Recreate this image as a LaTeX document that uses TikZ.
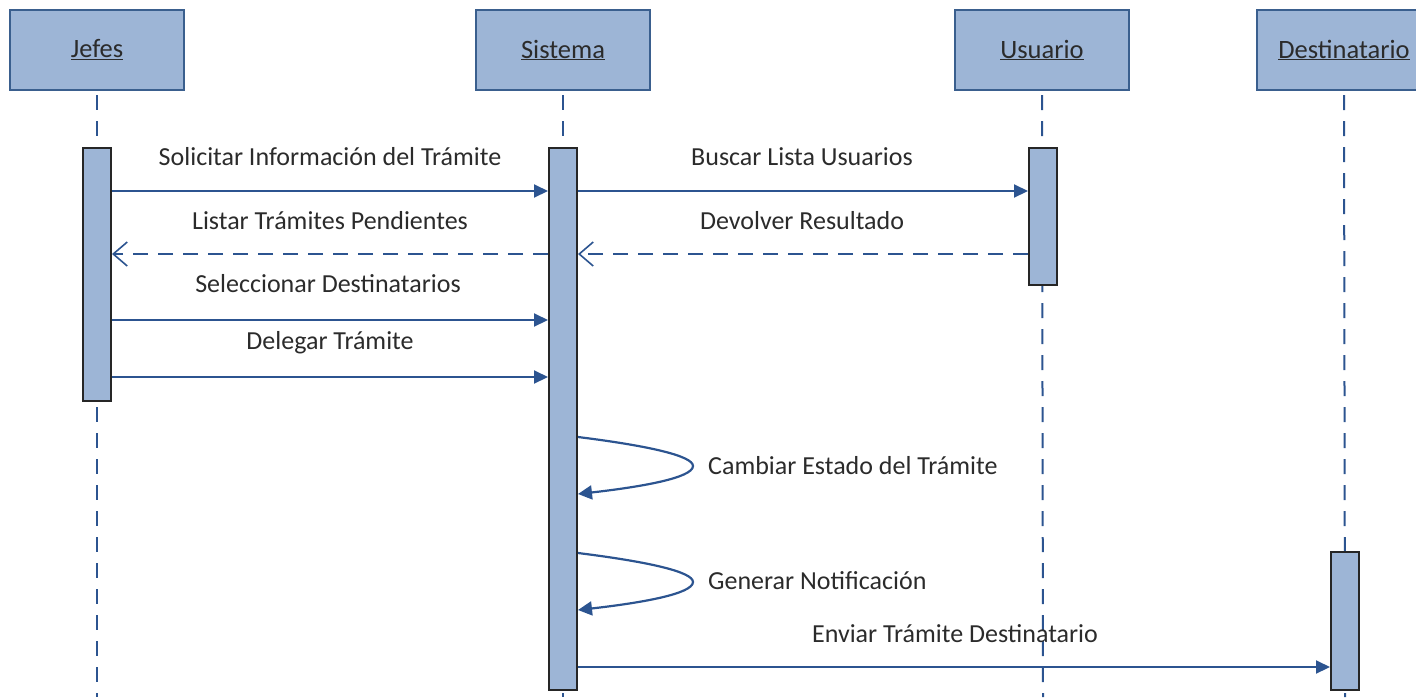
\documentclass[tikz,border=0pt]{standalone}
\usepackage{fontspec}
\setmainfont{Carlito}
\usetikzlibrary{arrows.meta}
\definecolor{boxfill}{HTML}{9DB5D6}
\definecolor{boxline}{HTML}{3A5F8E}
\definecolor{msgline}{HTML}{2C5490}
\definecolor{txt}{HTML}{2B2B2B}
\tikzset{
  head/.style={draw=boxline, line width=2.2pt, fill=boxfill, minimum width=174pt, minimum height=80pt, inner sep=0pt, font=\fontsize{26.5}{30}\selectfont, text=txt},
  actbar/.style={draw=black!85, line width=2pt, fill=boxfill, minimum width=28pt, inner sep=0pt},
  life/.style={draw=msgline, line width=2pt, dash pattern=on 15pt off 11pt},
  msg/.style={draw=msgline, line width=2pt, -{Triangle[length=14pt,width=13pt]}},
  ret/.style={draw=msgline, line width=2pt, dash pattern=on 15pt off 10pt, -{Straight Barb[length=14pt,width=24pt,line width=1.6pt]}},
  self/.style={draw=msgline, line width=2.2pt, -{Triangle[length=14pt,width=14pt]}},
  lbl/.style={font=\fontsize{26}{30}\selectfont, text=txt, inner sep=0pt}
}
\begin{document}
\begin{tikzpicture}[x=1pt,y=-1pt]
\useasboundingbox (0,0) rectangle (1416,697);
% lifelines
\coordinate (jbot) at (97,697);
\coordinate (sbot) at (563,697);
\coordinate (ubot) at (1043,697);
\coordinate (dbot) at (1345,697);
\node[head] (jh) at (97,50) {\underline{Jefes}};
\node[head] (sh) at (563,50) {\underline{Sistema}};
\node[head] (uh) at (1042,50) {\underline{Usuario}};
\node[head] (dh) at (1344,50) {\underline{Destinatario}};
\draw[life] ([yshift=-4pt]jh.south) -- (jbot);
\draw[life] ([yshift=-4pt]sh.south) -- (sbot);
\draw[life] ([yshift=-4pt]uh.south) -- (ubot);
\draw[life] ([yshift=-4pt]dh.south) -- (dbot);
% activation bars
\node[actbar, minimum height=253pt] (ja) at (97,274.5) {};
\node[actbar, minimum height=542pt] (sa) at (563,419) {};
\node[actbar, minimum height=137pt] (ua) at (1043,216.5) {};
\node[actbar, minimum height=138pt] (da) at (1345,621) {};
% messages
\draw[msg] (ja.east |- 0,191) -- (sa.west |- 0,191);
\node[lbl] (l1) at (330,157) {Solicitar Información del Trámite};
\draw[msg] (sa.east |- 0,191) -- (ua.west |- 0,191);
\node[lbl] (l2) at (802,157) {Buscar Lista Usuarios};
\draw[ret] (sa.west |- 0,254) -- (ja.east |- 0,254);
\node[lbl] (l3) at (330,221) {Listar Trámites Pendientes};
\draw[ret] (ua.west |- 0,254) -- (sa.east |- 0,254);
\node[lbl] (l4) at (802,221) {Devolver Resultado};
\draw[msg] (ja.east |- 0,320) -- (sa.west |- 0,320);
\node[lbl] (l5) at (328,284) {Seleccionar Destinatarios};
\draw[msg] (ja.east |- 0,377) -- (sa.west |- 0,377);
\node[lbl] (l6) at (330,343) {Delegar Trámite};
% self messages
\draw[self] (sa.east |- 0,437) .. controls (650,446) and (693,456) .. (693,466) .. controls (693,478) and (640,487) .. (sa.east |- 0,494);
\node[lbl, anchor=west] (l7) at (708,466) {Cambiar Estado del Trámite};
\draw[self] (sa.east |- 0,553) .. controls (650,562) and (693,572) .. (693,582) .. controls (693,594) and (640,603) .. (sa.east |- 0,610);
\node[lbl, anchor=west] (l8) at (708,581) {Generar Notificación};
\draw[msg] (sa.east |- 0,667) -- (da.west |- 0,667);
\node[lbl] (l9) at (955,634) {Enviar Trámite Destinatario};
\end{tikzpicture}
\end{document}
